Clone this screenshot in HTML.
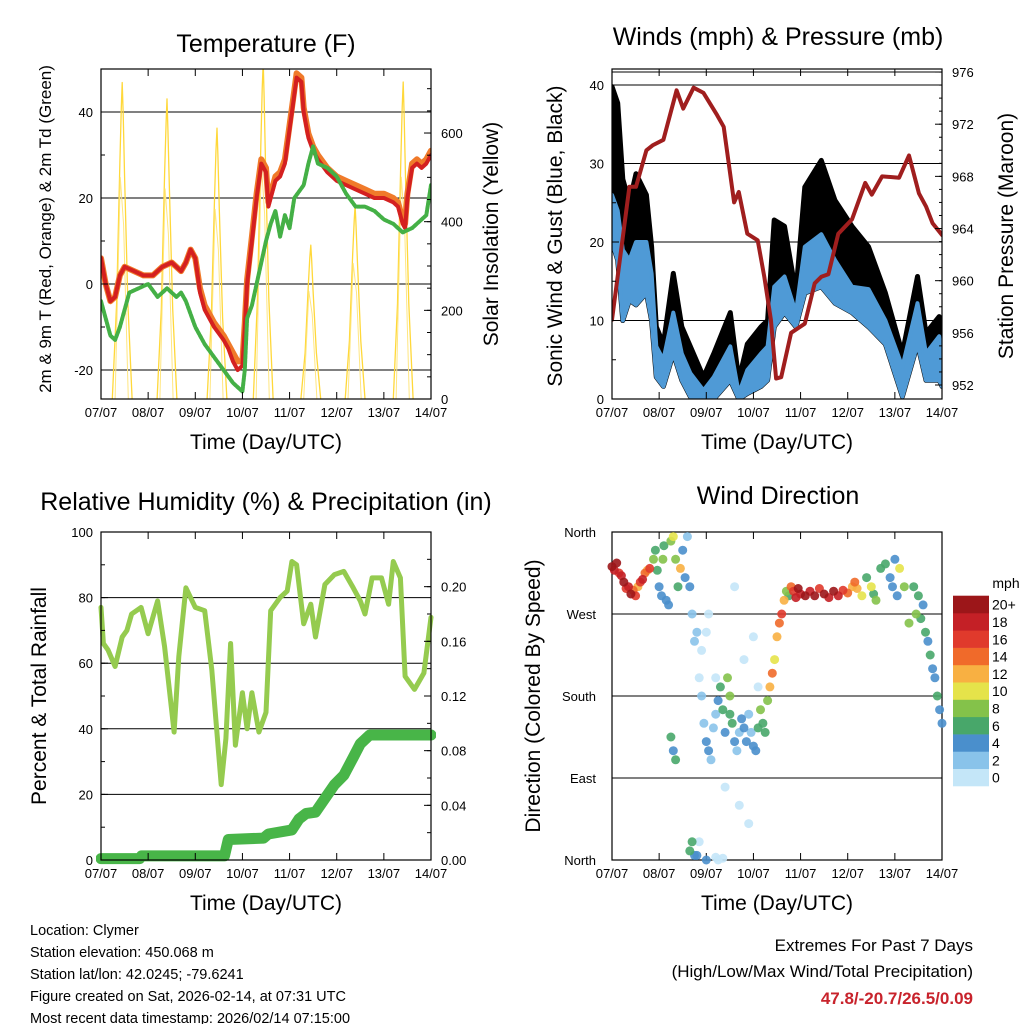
<!DOCTYPE html>
<html><head><meta charset="utf-8"><style>
body{margin:0;background:#fff;}
svg{display:block;font-family:"Liberation Sans",Arial,sans-serif;}
</style></head><body>
<svg id="c" width="1024" height="1024" viewBox="0 0 1024 1024" xmlns="http://www.w3.org/2000/svg">
<defs>
<clipPath id="clipT"><rect x="101" y="69" width="330" height="330"/></clipPath>
<clipPath id="clipW"><rect x="612" y="69" width="330" height="330"/></clipPath>
<clipPath id="clipR"><rect x="96" y="527" width="340" height="338"/></clipPath>
</defs>
</svg>
<script>
// ---------- DATA ----------
const dayLabels=["07/07","08/07","09/07","10/07","11/07","12/07","13/07","14/07"];
// Temperature (F)
const tempT=[0,0.1,0.2,0.3,0.4,0.5,0.7,0.9,1.1,1.3,1.5,1.7,1.8,1.9,2.0,2.1,2.2,2.4,2.6,2.7,2.8,2.9,3.0,3.05,3.1,3.2,3.3,3.4,3.5,3.55,3.6,3.7,3.8,3.9,4.0,4.1,4.15,4.25,4.3,4.4,4.5,4.6,4.8,5.0,5.2,5.4,5.6,5.8,6.0,6.2,6.3,6.4,6.45,6.5,6.6,6.7,6.8,6.9,7.0];
const temp2m=[6,0,-4,-3,2,4,3,2,2,4,5,3,5,8,6,-2,-6,-10,-13,-15,-18,-20,-19,-10,0,10,20,28,26,18,20,24,25,28,36,44,48,47,40,34,31,29,26,24,23,22,21,20,20,19,18,14,13,20,27,28,27,28,30];
const temp9m=[6,0,-4,-3,2,4,3,2,2,4,5,3,5,8,6,-1,-5,-9,-12,-14,-16,-18,-18,-9,1,11,21,29,27,19,21,25,26,29,37,45,49,48,41,35,32,30,27,25,24,23,22,21,21,20,19,15,14,21,28,29,28,29,31];
const dewT=[0,0.1,0.2,0.3,0.4,0.5,0.6,0.8,1.0,1.2,1.4,1.6,1.7,1.8,2.0,2.2,2.4,2.6,2.8,3.0,3.05,3.1,3.2,3.3,3.4,3.5,3.6,3.7,3.8,3.9,4.0,4.1,4.3,4.4,4.5,4.6,4.8,5.0,5.2,5.4,5.6,5.8,6.0,6.2,6.4,6.6,6.8,6.9,7.0];
const dew2m=[-4,-8,-12,-13,-10,-6,-2,-1,0,-3,-1,-3,-2,-4,-10,-14,-17,-20,-23,-25,-20,-8,-5,0,5,10,14,17,11,16,13,20,23,28,32,28,27,25,21,18,18,17,15,14,12,13,15,16,23];
const solarPeakT=[0.45,1.40,2.46,3.44,4.45,5.39,6.41];
const solarPeakV=[714,677,611,760,347,437,715];
// Winds (mph) & pressure (mb)
const windT=[0,0.12,0.23,0.37,0.51,0.73,0.84,0.94,1.09,1.3,1.48,1.66,1.94,2.16,2.51,2.69,2.87,3.16,3.3,3.44,3.66,3.9,4.09,4.44,4.73,5.09,5.44,5.8,6.16,6.48,6.66,6.94,7.0];
const gustHi=[39.8,37.7,28,25,28.7,26,19.4,9.2,7,16,9.2,6.7,2.8,5.8,11,2.4,7,9.2,10,22.8,22,13.5,27,30.4,25.3,22,19.4,13.5,5.8,15.6,8.4,10.5,5.8];
const windHi=[26,24,19,17.7,20,20,16,6.7,5,11,5.8,3.3,1.1,2.8,6.7,0.7,3.7,5.8,6.7,14.3,15.6,11,19.4,21,17.7,14.3,14,10,4.1,12.2,5.8,8,5];
const windLo=[20,17.7,10,12.6,12,13.5,10,2.8,1.6,5.8,2.4,0.3,0,0,2.4,0,0.7,1.6,2.4,9.2,11,9.2,13.5,14.3,12.2,11,9.2,7,0.3,7,2.4,2.4,1.6];
const presT=[0,0.37,0.51,0.73,0.87,1.09,1.37,1.51,1.73,1.94,2.23,2.37,2.59,2.69,2.87,3.09,3.23,3.37,3.48,3.59,3.8,4.09,4.3,4.44,4.59,4.8,5.09,5.37,5.51,5.73,6.09,6.3,6.51,6.66,6.8,7.0];
const pres=[957,967.2,967.2,970,970.4,970.8,974.6,973.2,974.8,974.4,972.7,971.8,966,966.8,963.6,963.1,960.3,957,952.5,952.6,956,956.7,959.8,960.3,960.5,963.6,964.7,967.5,966.6,968,967.9,969.6,966.7,965.7,964.4,963.5];
// Relative humidity & precipitation
const rhT=[0,0.05,0.15,0.3,0.45,0.55,0.65,0.85,1.0,1.2,1.35,1.55,1.65,1.8,2.0,2.2,2.35,2.55,2.65,2.75,2.85,3.0,3.1,3.2,3.35,3.5,3.6,3.8,3.95,4.05,4.15,4.3,4.45,4.55,4.75,4.95,5.15,5.35,5.5,5.6,5.75,5.95,6.1,6.2,6.35,6.45,6.65,6.85,7.0];
const rh=[77,66,64,59,68,70,75,77,69,79,65,39,62,83,77,76,58,23,37,66,35,51,40,51,39,45,76,80,82,91,90,72,78,68,84,87,88,83,79,75,86,86,78,91,86,56,52,57,74];
const precT=[0,0.82,0.86,2.62,2.7,3.45,3.55,4.05,4.2,4.35,4.55,4.75,4.95,5.15,5.35,5.5,5.7,7.0];
const precV=[0.001,0.001,0.003,0.003,0.015,0.016,0.019,0.022,0.03,0.034,0.035,0.045,0.055,0.062,0.075,0.085,0.0915,0.0915];
// Wind direction
const wdT=[0,0.05,0.1,0.15,0.2,0.25,0.3,0.35,0.4,0.45,0.5,0.55,0.6,0.65,0.7,0.75,0.8,0.88,0.92,0.96,1.0,1.05,1.08,1.1,1.15,1.2,1.25,1.3,1.35,1.4,1.45,1.5,1.55,1.6,1.65,1.7,1.75,1.8,1.85,1.9,1.95,2.0,2.05,2.1,2.15,2.2,2.25,2.3,2.35,2.4,2.45,2.5,2.5,2.55,2.6,2.65,2.7,2.75,2.8,2.85,2.9,2.95,3.0,3.05,3.1,3.15,3.2,3.25,3.3,3.35,3.4,3.45,3.5,3.55,3.6,3.65,3.7,3.75,3.8,3.85,3.9,3.95,4.0,4.1,4.2,4.3,4.4,4.5,4.6,4.7,4.8,4.9,5.0,5.1,5.15,5.2,5.3,5.4,5.5,5.55,5.6,5.7,5.8,5.9,5.95,6.0,6.05,6.1,6.2,6.3,6.4,6.45,6.5,6.55,6.6,6.65,6.7,6.75,6.8,6.85,6.9,6.95,7.0,1.25,1.3,1.35,1.65,1.7,1.75,1.8,2.0,2.2,2.35,2.6,2.0,1.9,2.2,2.4,2.7,2.9,1.85,2.05,2.25,2.8,3.0,3.1];
const wdDir=[322,318,326,315,312,305,298,300,292,296,290,300,305,308,315,318,320,330,340,318,300,290,330,345,285,280,350,355,330,300,320,340,310,355,300,270,240,250,200,180,150,130,120,110,145,160,175,190,165,140,200,180,160,150,130,120,140,155,145,130,160,140,125,120,145,165,150,140,175,190,205,220,245,260,270,285,295,290,300,295,288,298,292,290,295,290,298,292,288,295,290,296,293,300,305,298,290,310,300,292,285,320,325,310,300,330,290,320,300,260,300,270,290,265,280,250,240,225,210,200,180,165,150,135,120,110,10,20,5,5,0,3,2,300,250,230,200,80,60,40,20,270,0,220,245,190,330,280,250];
const wdSpd=[20,18,20,16,18,20,16,18,20,14,16,12,16,18,14,12,16,8,7,6,4,4,8,6,4,4,8,10,8,6,12,4,4,2,4,2,2,2,0,2,2,4,4,2,2,2,4,6,6,4,8,8,7,6,4,2,2,4,4,4,2,2,4,4,6,8,6,7,8,12,14,10,12,14,16,12,8,6,14,16,18,20,18,20,18,20,16,20,18,20,18,16,14,12,14,12,10,7,10,7,8,6,6,4,4,4,4,10,8,9,7,8,6,6,4,6,4,6,4,4,6,4,4,6,4,7,7,6,4,4,4,0,0,0,0,0,0,0,0,0,0,0,0,0,0,0,0];

// ---------- DRAW ----------
const svg=document.getElementById('c');
const NS="http://www.w3.org/2000/svg";
function el(tag,attrs,parent,text){const e=document.createElementNS(NS,tag);for(const k in attrs)e.setAttribute(k,attrs[k]);if(text!==undefined)e.textContent=text;(parent||svg).appendChild(e);return e;}
function grp(name,parent){const g=document.createElementNS(NS,'g');


(parent||svg).appendChild(g);return g;}
function txt(g,name,x,y,s,size,anchor,extra){const t=el('text',Object.assign({x:x,y:y,'font-size':size,'text-anchor':anchor||'middle',fill:'#000'},extra||{}),g,s);


return t;}
function pathD(xs,ys,fx,fy){let d='';for(let i=0;i<xs.length;i++)d+=(i?'L':'M')+fx(xs[i]).toFixed(1)+' '+fy(ys[i]).toFixed(1);return d;}
function poly(g,name,xs,ys,fx,fy,attrs){
const p=el('path',Object.assign({d:pathD(xs,ys,fx,fy),fill:'none','stroke-linejoin':'round','stroke-linecap':'round'},attrs),g);


return p;}
function band(g,name,xs,hi,lo,fx,fy,attrs){
let d=pathD(xs,hi,fx,fy);for(let i=xs.length-1;i>=0;i--)d+='L'+fx(xs[i]).toFixed(1)+' '+fy(lo[i]).toFixed(1);d+='Z';
const p=el('path',Object.assign({d:d,'stroke-linejoin':'round'},attrs),g);


return p;}
function frame(g,x0,y0,w,h){el('rect',{x:x0,y:y0,width:w,height:h,fill:'none',stroke:'#000','stroke-width':1.2},g);}
function hgrid(g,x0,w,ys){ys.forEach(y=>el('line',{x1:x0,x2:x0+w,y1:y,y2:y,stroke:'#000','stroke-width':1},g));}
function xaxis(g,x0,y0,w,h){const sx=t=>x0+t*w/7;
for(let i=0;i<=7;i++){const x=sx(i);el('line',{x1:x,x2:x,y1:y0+h,y2:y0+h-7,stroke:'#000'},g);el('line',{x1:x,x2:x,y1:y0,y2:y0+7,stroke:'#000'},g);
txt(g,'x-tick-label',x,y0+h+18,dayLabels[i],13);}
txt(g,'x-axis-title',x0+w/2,y0+h+50,'Time (Day/UTC)',21);}
function yticks(g,xEdge,dir,fy,vals,len){vals.forEach(v=>{const y=fy(v);el('line',{x1:xEdge,x2:xEdge+dir*len,y1:y,y2:y,stroke:'#000'},g);});}
function ylabels(g,x,fy,vals,fmt,anchor){vals.forEach(v=>txt(g,'y-tick-label',x,fy(v)+5,fmt(v),13,anchor));}
function vtitle(g,name,x,y,s,size){txt(g,name,x,y,s,size,'middle',{transform:'rotate(-90 '+x+' '+y+')'});}
const range=(a,b,s)=>{const r=[];for(let v=a;v<=b+1e-9;v+=s)r.push(+v.toFixed(4));return r;};

// Panel 1: Temperature
(function(){const g=grp('temperature-panel');const x0=101,y0=69,w=330,h=330;
const sx=t=>x0+t*w/7, ty=v=>284-v*4.3, sy=v=>399-v*0.4433;
txt(g,'temperature-title',266,52,'Temperature (F)',25);
hgrid(g,x0,w,[40,20,0,-20].map(ty));
const cg=grp('temperature-plot-area',g);cg.setAttribute('clip-path','url(#clipT)');
const sg=grp('solar-series',cg);
solarPeakT.forEach((t,i)=>{const v=solarPeakV[i];
 const ts=[t-0.21,t-0.12,t-0.05,t-0.02,t,t+0.02,t+0.05,t+0.12,t+0.21];
 const vs=[0,v*0.3,v*0.75,v*0.92,v,v*0.9,v*0.7,v*0.3,0];
 poly(sg,'solar-day-'+i,ts,vs,sx,sy,{stroke:'#ffd83a','stroke-width':1.3});
 const ts2=[t-0.15,t-0.04,t+0.03,t+0.13];const vs2=[0,v*0.7,v*0.55,0];
 poly(sg,'solar-day-echo-'+i,ts2,vs2,sx,sy,{stroke:'#ffe680','stroke-width':1});});
poly(cg,'temp-9m-line',tempT,temp9m,sx,ty,{stroke:'#f07a2a','stroke-width':6});
poly(cg,'temp-2m-line',tempT,temp2m,sx,ty,{stroke:'#d42020','stroke-width':4});
poly(cg,'dewpoint-line',dewT,dew2m,sx,ty,{stroke:'#44b046','stroke-width':4,'stroke-dasharray':'3 1.5'});
frame(g,x0,y0,w,h);
yticks(g,x0,1,ty,range(-20,40,20),7);yticks(g,x0,1,ty,range(-20,50,10),4);
yticks(g,x0+w,-1,sy,range(0,700,200),7);yticks(g,x0+w,-1,sy,range(0,700,50),4);
ylabels(g,x0-8,ty,[40,20,0,-20],v=>v,'end');
ylabels(g,x0+w+10,sy,[0,200,400,600],v=>v,'start');
xaxis(g,x0,y0,w,h);
vtitle(g,'temperature-y-title',51,229,'2m & 9m T (Red, Orange) & 2m Td (Green)',17);
vtitle(g,'solar-y-title',498,234,'Solar Insolation (Yellow)',21);
})();

// Panel 2: Winds & Pressure
(function(){const g=grp('winds-panel');const x0=612,y0=69,w=330,h=330;
const sx=t=>x0+t*w/7, wy=v=>399-v*7.85, py=v=>385-(v-952)*13.04;
txt(g,'winds-title',778,45,'Winds (mph) & Pressure (mb)',25);
hgrid(g,x0,w,[40,30,20,10].map(wy).concat([py(976)]));
const cg=grp('winds-plot-area',g);cg.setAttribute('clip-path','url(#clipW)');
band(cg,'gust-band',windT,gustHi,windLo,sx,wy,{fill:'#000',stroke:'#000','stroke-width':5});
band(cg,'wind-band',windT,windHi,windLo,sx,wy,{fill:'#4f9ad6',stroke:'#4f9ad6','stroke-width':4});
poly(cg,'pressure-line',presT,pres,sx,py,{stroke:'#a01e1e','stroke-width':4});
frame(g,x0,y0,w,h);
yticks(g,x0,1,wy,range(0,40,10),7);yticks(g,x0,1,wy,range(0,40,5),4);
yticks(g,x0+w,-1,py,range(952,976,4),7);yticks(g,x0+w,-1,py,range(952,976,1),3);
ylabels(g,x0-8,wy,range(0,40,10),v=>v,'end');
ylabels(g,x0+w+10,py,range(952,976,4),v=>v,'start');
xaxis(g,x0,y0,w,h);
vtitle(g,'wind-y-title',562,236,'Sonic Wind & Gust (Blue, Black)',21);
vtitle(g,'pressure-y-title',1013,236,'Station Pressure (Maroon)',21);
})();

// Panel 3: RH & Precip
(function(){const g=grp('humidity-panel');const x0=101,y0=532,w=330,h=328;
const sx=t=>x0+t*w/7, ry=v=>860-v*3.28, pyy=v=>860-v/0.24*328;
txt(g,'humidity-title',266,510,'Relative Humidity (%) & Precipitation (in)',25);
hgrid(g,x0,w,[80,60,40,20].map(ry));
const cg=grp('humidity-plot-area',g);cg.setAttribute('clip-path','url(#clipR)');
poly(cg,'rh-line',rhT,rh,sx,ry,{stroke:'#95cb4f','stroke-width':5});
poly(cg,'precip-line',precT,precV,sx,pyy,{stroke:'#48b548','stroke-width':11});
frame(g,x0,y0,w,h);
yticks(g,x0,1,ry,range(0,100,20),7);yticks(g,x0,1,ry,range(0,100,10),4);
yticks(g,x0+w,-1,pyy,range(0,0.24,0.04),7);yticks(g,x0+w,-1,pyy,range(0,0.24,0.02),4);
ylabels(g,x0-8,ry,range(0,100,20),v=>v,'end');
ylabels(g,x0+w+10,pyy,range(0,0.2,0.04),v=>v.toFixed(2),'start');
xaxis(g,x0,y0,w,h);
vtitle(g,'humidity-y-title',46,696,'Percent & Total Rainfall',21);
})();

// Panel 4: Wind direction
const binColors=['#c4e6f8','#89c3ea','#4a8fcc','#48a76a','#84c24a','#e5e34a','#f8b042','#f06a2a','#e03a2c','#c42026','#9c1619'];
(function(){const g=grp('direction-panel');const x0=612,y0=532,w=330,h=328;
const sx=t=>x0+t*w/7, dy=d=>860-d/360*328;
txt(g,'direction-title',778,504,'Wind Direction',25);
hgrid(g,x0,w,[360,270,180,90,0].map(dy));
const pg=grp('direction-points');
const order=wdT.map((_,i)=>i).sort((a,b)=>wdSpd[a]-wdSpd[b]);
order.forEach(i=>{const b=Math.min(10,Math.floor(wdSpd[i]/2));
 const c=el('circle',{cx:sx(wdT[i]).toFixed(1),cy:dy(wdDir[i]).toFixed(1),r:4.5,fill:binColors[b],'fill-opacity':0.9},pg);
 
 });
frame(g,x0,y0,w,h);
yticks(g,x0,1,dy,range(0,360,90),7);
[[360,'North'],[270,'West'],[180,'South'],[90,'East'],[0,'North']].forEach(p=>txt(g,'y-tick-label',x0-16,dy(p[0])+5,p[1],13,'end'));
xaxis(g,x0,y0,w,h);
vtitle(g,'direction-y-title',540,696,'Direction (Colored By Speed)',21);
const lg=grp('speed-colorbar');
txt(lg,'colorbar-unit',1006,588,'mph',14);
const labels=['0','2','4','6','8','10','12','14','16','18','20+'];
for(let i=0;i<11;i++){const y=786-(i+1)*17.3;
 const r=el('rect',{x:953,y:y.toFixed(1),width:36,height:17.6,fill:binColors[i]},lg);
 
 
 txt(lg,'colorbar-label',992,y+14,labels[i],14,'start');}
})();

// Footer
(function(){const g=grp('footer');
const lines=['Location: Clymer','Station elevation: 450.068 m','Station lat/lon: 42.0245; -79.6241','Figure created on Sat, 2026-02-14, at 07:31 UTC','Most recent data timestamp: 2026/02/14 07:15:00'];
lines.forEach((s,i)=>txt(g,'footer-line',30,935+i*22,s,14.5,'start'));
txt(g,'extremes-heading',973,951,'Extremes For Past 7 Days',17,'end');
txt(g,'extremes-subheading',973,977,'(High/Low/Max Wind/Total Precipitation)',17,'end');
txt(g,'extremes-values',973,1004,'47.8/-20.7/26.5/0.09',17,'end',{fill:'#c8232c','font-weight':'bold'});
})();
</script>
</body></html>
